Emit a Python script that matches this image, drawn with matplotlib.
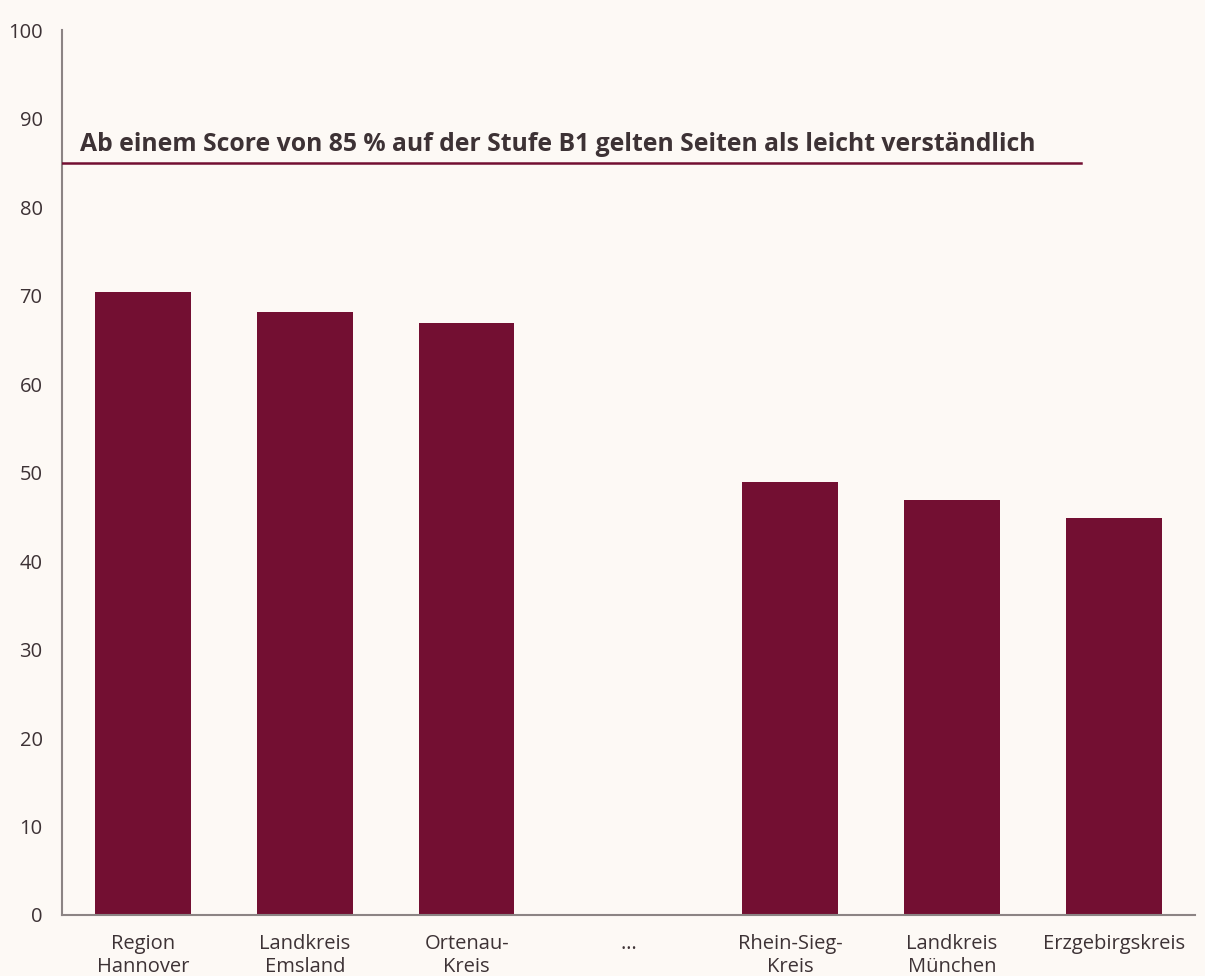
import matplotlib.pyplot as plt
import numpy as np

# data
categories = ["Region\nHannover", "Landkreis\nEmsland", "Ortenau-\nKreis", "…",
              "Rhein-Sieg-\nKreis", "Landkreis\nMünchen", "Erzgebirgskreis"]
scores = [70.4, 68.2, 66.9, np.nan, 48.9, 46.9, 44.9]
threshold = 85
threshold_label = "Ab einem Score von 85 % auf der Stufe B1 gelten Seiten als leicht verständlich"
yticks = list(range(0, 101, 10))

bg = "#fdf9f5"
bar_color = "#730f32"
text_color = "#3d3235"
spine_color = "#8c8484"

plt.rcParams['font.family'] = ['Open Sans', 'DejaVu Sans']

fig = plt.figure(figsize=(12.05, 9.76), dpi=100, facecolor=bg)
ax = fig.add_axes([0.0515, 0.0625, 0.940, 0.9065])
ax.set_facecolor(bg)

x = np.arange(len(categories))
ax.bar(x, scores, width=0.59, color=bar_color, zorder=2)

ax.plot([-0.5, 5.8], [threshold, threshold], color=bar_color, lw=1.8, zorder=3)
ax.text(-0.39, threshold + 1.3, threshold_label, fontsize=17.8, fontweight='bold',
        color=text_color, ha='left', va='baseline')

ax.set_xlim(-0.5, 6.5)
ax.set_ylim(0, 100)
ax.set_yticks(yticks)
ax.set_xticks(x)
ax.set_xticklabels(categories, fontsize=14.5, color=text_color, linespacing=1.2)
ax.tick_params(axis='y', length=0, pad=14, labelsize=14.5, labelcolor=text_color)
ax.tick_params(axis='x', length=0, pad=14)

for s in ['top', 'right']:
    ax.spines[s].set_visible(False)
for s in ['left', 'bottom']:
    ax.spines[s].set_color(spine_color)
    ax.spines[s].set_linewidth(1.5)

fig.savefig("out.png", dpi=100, facecolor=bg)
